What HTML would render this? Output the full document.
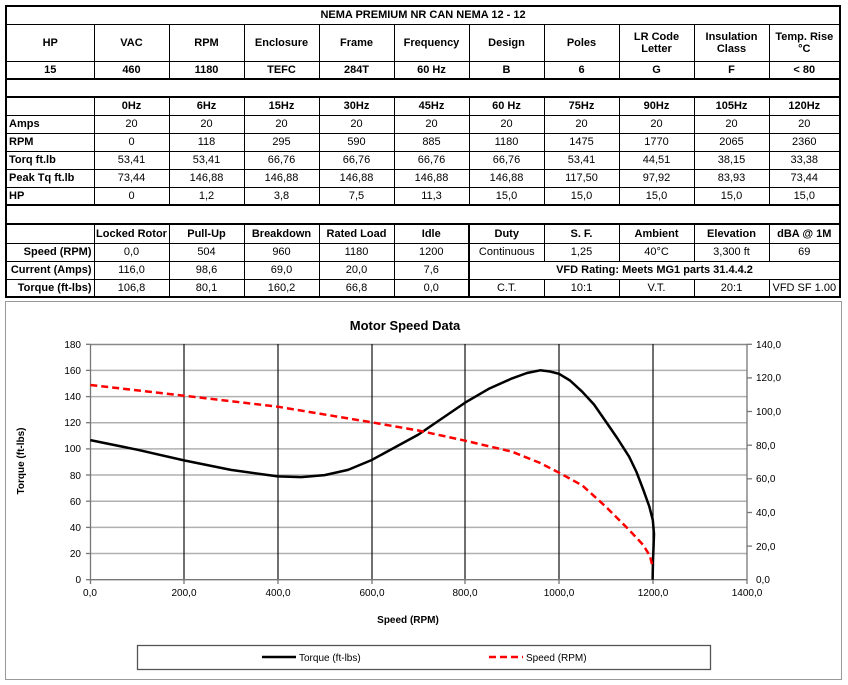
<!DOCTYPE html>
<html><head><meta charset="utf-8"><style>
html,body{margin:0;padding:0;background:#fff;width:848px;height:685px;overflow:hidden;position:relative}
table{position:absolute;left:5px;top:5px;width:834px;border-collapse:collapse;table-layout:fixed;font-family:"Liberation Sans",sans-serif;font-size:11px;color:#000}
td{border:1px solid #000;text-align:center;padding:0;line-height:12px;white-space:nowrap;overflow:hidden}
.b td{font-weight:bold}
td.l{text-align:left;font-weight:bold;padding-left:2px}
td.r{text-align:right;font-weight:bold;padding-right:2px}
.tt td{border-top:2px solid #000}
.tb td{border-bottom:2px solid #000}
td.tv{border-left:2px solid #000}
table{border:2px solid #000}
svg{position:absolute;left:0;top:0}
</style></head><body>
<svg width="848" height="685" font-family="Liberation Sans, sans-serif">
<rect x="5.5" y="301.5" width="836" height="378" fill="#fff" stroke="#999"/>
<g stroke="#b0b0b0" stroke-width="1.5">
<line x1="90" y1="370.4" x2="747" y2="370.4"/><line x1="90" y1="396.6" x2="747" y2="396.6"/><line x1="90" y1="422.7" x2="747" y2="422.7"/><line x1="90" y1="448.9" x2="747" y2="448.9"/><line x1="90" y1="475" x2="747" y2="475"/><line x1="90" y1="501.2" x2="747" y2="501.2"/><line x1="90" y1="527.4" x2="747" y2="527.4"/><line x1="90" y1="553.5" x2="747" y2="553.5"/>
</g>
<line x1="90" y1="344.5" x2="747" y2="344.5" stroke="#888" stroke-width="1.5"/>
<g stroke="#111" stroke-width="1.2">
<line x1="184" y1="344" x2="184" y2="580"/><line x1="278" y1="344" x2="278" y2="580"/><line x1="372" y1="344" x2="372" y2="580"/><line x1="465" y1="344" x2="465" y2="580"/><line x1="559" y1="344" x2="559" y2="580"/><line x1="653" y1="344" x2="653" y2="580"/>
</g>
<g stroke="#777" stroke-width="1.3">
<line x1="90.5" y1="344" x2="90.5" y2="580"/><line x1="747" y1="344" x2="747" y2="580"/><line x1="90" y1="579.7" x2="747" y2="579.7"/>
<line x1="86" y1="344.3" x2="90" y2="344.3"/><line x1="86" y1="370.4" x2="90" y2="370.4"/><line x1="86" y1="396.6" x2="90" y2="396.6"/><line x1="86" y1="422.7" x2="90" y2="422.7"/><line x1="86" y1="448.9" x2="90" y2="448.9"/><line x1="86" y1="475" x2="90" y2="475"/><line x1="86" y1="501.2" x2="90" y2="501.2"/><line x1="86" y1="527.4" x2="90" y2="527.4"/><line x1="86" y1="553.5" x2="90" y2="553.5"/><line x1="86" y1="579.7" x2="90" y2="579.7"/>
<line x1="747" y1="344.3" x2="752" y2="344.3"/><line x1="747" y1="377.9" x2="752" y2="377.9"/><line x1="747" y1="411.5" x2="752" y2="411.5"/><line x1="747" y1="445.2" x2="752" y2="445.2"/><line x1="747" y1="478.8" x2="752" y2="478.8"/><line x1="747" y1="512.5" x2="752" y2="512.5"/><line x1="747" y1="546.1" x2="752" y2="546.1"/>
<line x1="90.5" y1="580" x2="90.5" y2="584"/><line x1="184" y1="580" x2="184" y2="584"/><line x1="278" y1="580" x2="278" y2="584"/><line x1="372" y1="580" x2="372" y2="584"/><line x1="465" y1="580" x2="465" y2="584"/><line x1="559" y1="580" x2="559" y2="584"/><line x1="653" y1="580" x2="653" y2="584"/><line x1="747" y1="580" x2="747" y2="584"/>
</g>
<g font-size="10" text-anchor="end" fill="#000">
<text x="81" y="348">180</text><text x="81" y="374">160</text><text x="81" y="400">140</text><text x="81" y="426">120</text><text x="81" y="452">100</text><text x="81" y="479">80</text><text x="81" y="505">60</text><text x="81" y="531">40</text><text x="81" y="557">20</text><text x="81" y="583">0</text>
</g>
<g font-size="10" fill="#000">
<text x="756" y="348">140,0</text><text x="756" y="381">120,0</text><text x="756" y="415">100,0</text><text x="756" y="449">80,0</text><text x="756" y="482">60,0</text><text x="756" y="516">40,0</text><text x="756" y="550">20,0</text><text x="756" y="583">0,0</text>
</g>
<g font-size="10" text-anchor="middle" fill="#000">
<text x="90" y="596">0,0</text><text x="184" y="596">200,0</text><text x="278" y="596">400,0</text><text x="372" y="596">600,0</text><text x="465" y="596">800,0</text><text x="559" y="596">1000,0</text><text x="653" y="596">1200,0</text><text x="747" y="596">1400,0</text>
</g>
<text x="405" y="330" font-size="13" font-weight="bold" text-anchor="middle">Motor Speed Data</text>
<text x="408" y="623" font-size="10" font-weight="bold" text-anchor="middle">Speed (RPM)</text>
<text transform="translate(24,461) rotate(-90)" font-size="10" font-weight="bold" text-anchor="middle">Torque (ft-lbs)</text>
<polyline fill="none" stroke="#000" stroke-width="2.5" stroke-linejoin="round" points="90.3,440.1 137.2,449.7 184,460.4 230.9,469.9 277.7,476.4 301.2,477.1 324.6,475.1 348,469.9 371.5,460.1 418.3,434.6 465.2,402.6 488.6,388.9 512,378.4 527,373 540.2,370.3 550,371.5 559,373.8 570,380.5 582.3,391.8 594,404.5 605.8,421.5 617.5,438.5 629.2,456.8 636.5,472 643.2,489.5 649.3,506.5 652.8,520 654,534 653.5,548 653,560 652.6,579.7"/>
<polyline fill="none" stroke="#f00" stroke-width="2.5" stroke-dasharray="7,4" points="90.3,385 184,395.7 277.7,406.7 371.5,422.3 418.3,430.5 465.2,440.7 512,451.7 540.2,463 559,472.7 582.4,485.5 605.8,506.7 629.2,530 643.2,545 650,556 652.6,566.7"/>
<rect x="137.5" y="645.5" width="573" height="24" fill="#fff" stroke="#555" stroke-width="1.3"/>
<line x1="262" y1="657" x2="296" y2="657" stroke="#000" stroke-width="2.5"/>
<text x="299" y="661" font-size="10">Torque (ft-lbs)</text>
<line x1="489" y1="657" x2="523" y2="657" stroke="#f00" stroke-width="2.5" stroke-dasharray="7,4"/>
<text x="526" y="661" font-size="10">Speed (RPM)</text>
</svg>
<table>
<colgroup><col style="width:88px"><col style="width:75px"><col style="width:75px"><col style="width:75px"><col style="width:75px"><col style="width:75px"><col style="width:75px"><col style="width:75px"><col style="width:75px"><col style="width:75px"><col style="width:71px"></colgroup>
<tr class="b" style="height:18px"><td colspan="11">NEMA PREMIUM NR CAN NEMA 12 - 12</td></tr>
<tr class="b" style="height:37px"><td>HP</td><td>VAC</td><td>RPM</td><td>Enclosure</td><td>Frame</td><td>Frequency</td><td>Design</td><td>Poles</td><td>LR Code<br>Letter</td><td>Insulation<br>Class</td><td>Temp. Rise<br>°C</td></tr>
<tr class="b" style="height:18px"><td>15</td><td>460</td><td>1180</td><td>TEFC</td><td>284T</td><td>60 Hz</td><td>B</td><td>6</td><td>G</td><td>F</td><td>&lt; 80</td></tr>
<tr class="tt tb" style="height:18px"><td colspan="11"></td></tr>
<tr class="b" style="height:18px"><td></td><td>0Hz</td><td>6Hz</td><td>15Hz</td><td>30Hz</td><td>45Hz</td><td>60 Hz</td><td>75Hz</td><td>90Hz</td><td>105Hz</td><td>120Hz</td></tr>
<tr style="height:18px"><td class="l">Amps</td><td>20</td><td>20</td><td>20</td><td>20</td><td>20</td><td>20</td><td>20</td><td>20</td><td>20</td><td>20</td></tr>
<tr style="height:18px"><td class="l">RPM</td><td>0</td><td>118</td><td>295</td><td>590</td><td>885</td><td>1180</td><td>1475</td><td>1770</td><td>2065</td><td>2360</td></tr>
<tr style="height:18px"><td class="l">Torq ft.lb</td><td>53,41</td><td>53,41</td><td>66,76</td><td>66,76</td><td>66,76</td><td>66,76</td><td>53,41</td><td>44,51</td><td>38,15</td><td>33,38</td></tr>
<tr style="height:18px"><td class="l">Peak Tq ft.lb</td><td>73,44</td><td>146,88</td><td>146,88</td><td>146,88</td><td>146,88</td><td>146,88</td><td>117,50</td><td>97,92</td><td>83,93</td><td>73,44</td></tr>
<tr style="height:18px"><td class="l">HP</td><td>0</td><td>1,2</td><td>3,8</td><td>7,5</td><td>11,3</td><td>15,0</td><td>15,0</td><td>15,0</td><td>15,0</td><td>15,0</td></tr>
<tr class="tt tb" style="height:19px"><td colspan="11"></td></tr>
<tr class="b" style="height:19px"><td></td><td>Locked Rotor</td><td>Pull-Up</td><td>Breakdown</td><td>Rated Load</td><td>Idle</td><td class="tv">Duty</td><td>S. F.</td><td>Ambient</td><td>Elevation</td><td>dBA @ 1M</td></tr>
<tr style="height:18px"><td class="r">Speed (RPM)</td><td>0,0</td><td>504</td><td>960</td><td>1180</td><td>1200</td><td class="tv">Continuous</td><td>1,25</td><td>40°C</td><td>3,300 ft</td><td>69</td></tr>
<tr style="height:18px"><td class="r">Current (Amps)</td><td>116,0</td><td>98,6</td><td>69,0</td><td>20,0</td><td>7,6</td><td class="tv" colspan="5" style="font-weight:bold">VFD Rating: Meets MG1 parts 31.4.4.2</td></tr>
<tr style="height:18px"><td class="r">Torque (ft-lbs)</td><td>106,8</td><td>80,1</td><td>160,2</td><td>66,8</td><td>0,0</td><td class="tv">C.T.</td><td>10:1</td><td>V.T.</td><td>20:1</td><td>VFD SF 1.00</td></tr>
</table>
</body></html>
